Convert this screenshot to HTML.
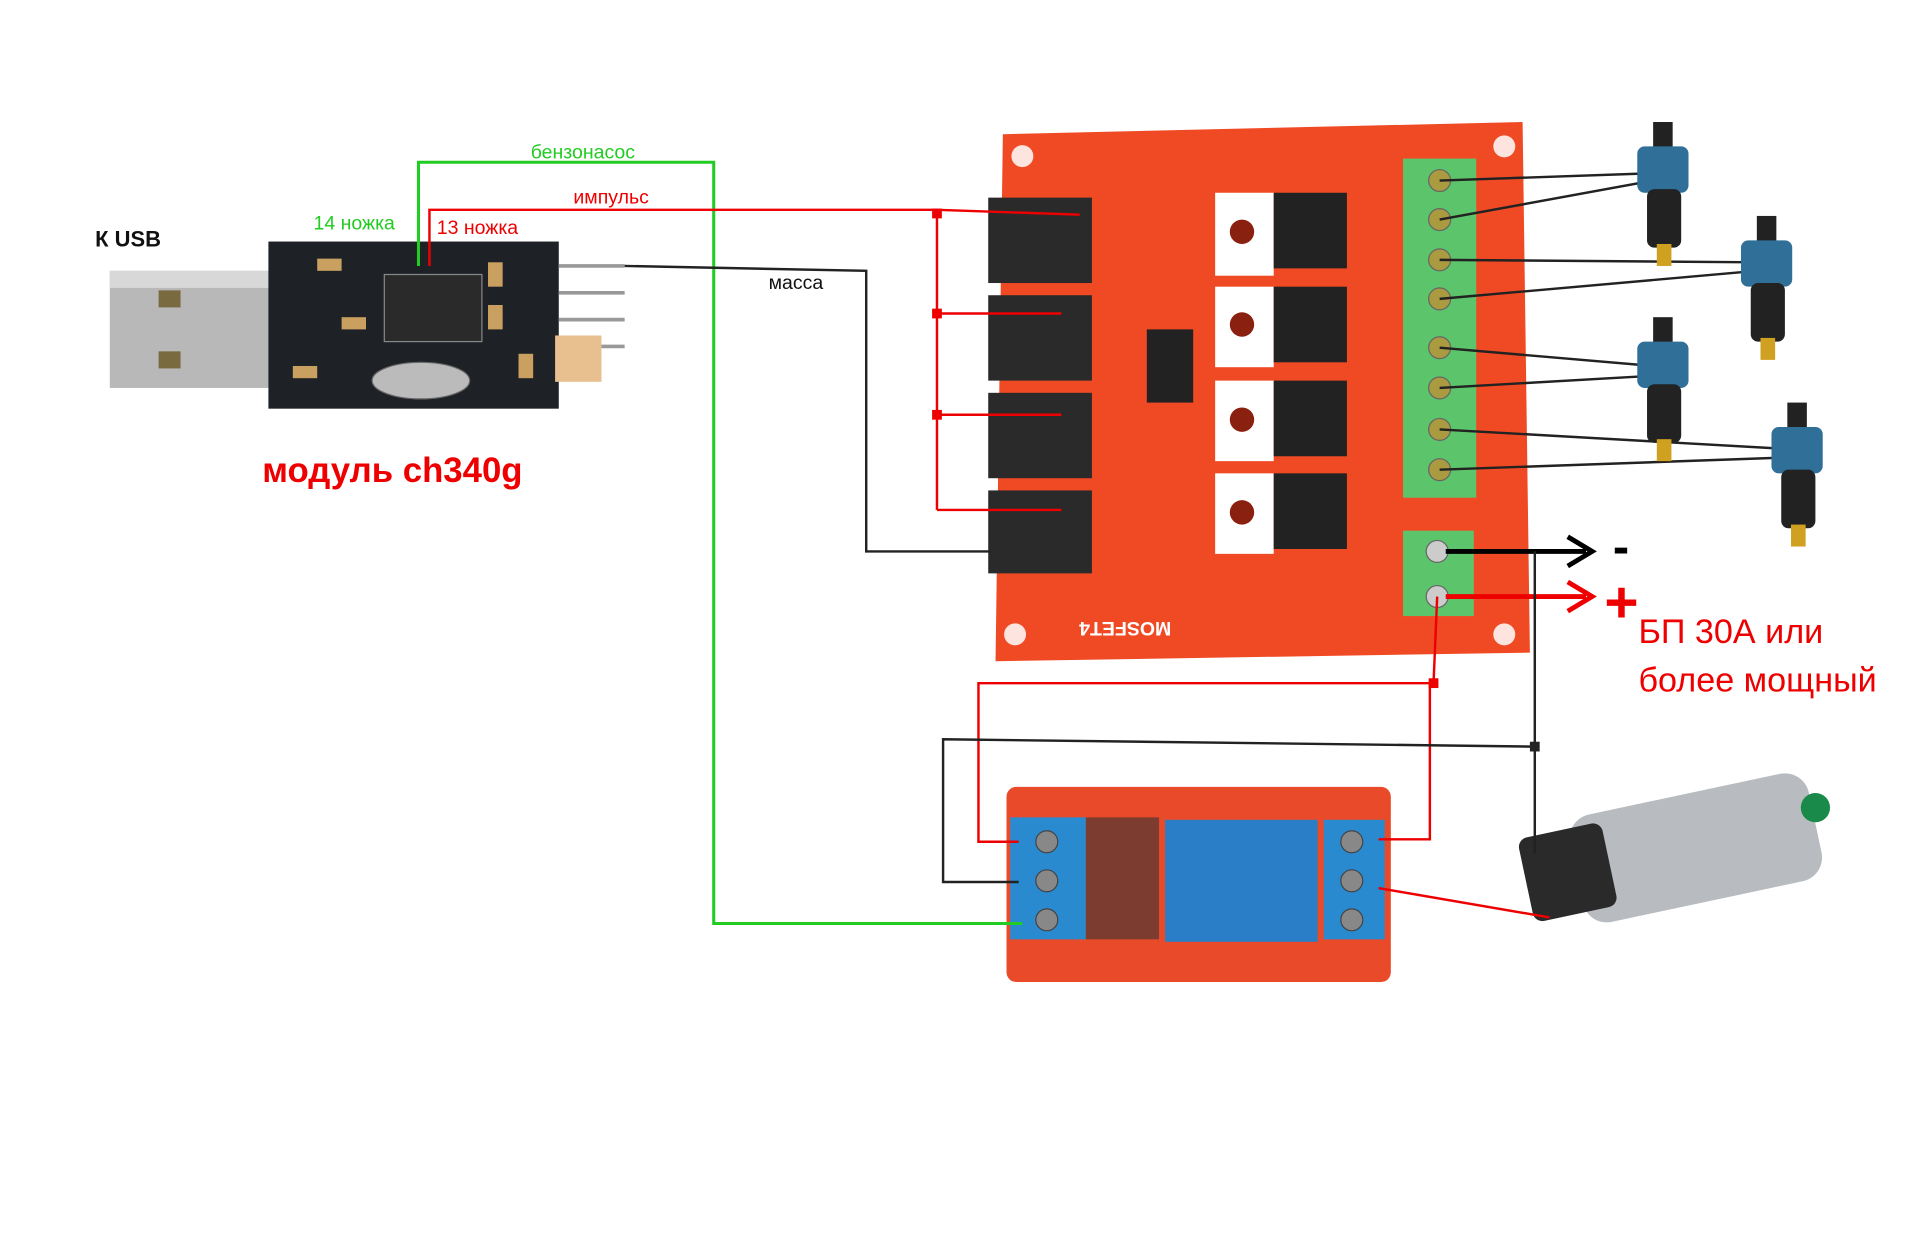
<!DOCTYPE html>
<html><head><meta charset="utf-8"><style>
html,body{margin:0;padding:0;background:#fff;width:1913px;height:1248px;overflow:hidden}
svg{display:block}
text{font-family:"Liberation Sans","DejaVu Sans",sans-serif}
</style></head><body>
<svg width="1913" height="1248" viewBox="0 0 1568 1023" preserveAspectRatio="none" xmlns="http://www.w3.org/2000/svg">
<rect width="1568" height="1023" fill="#fff"/>
<!-- USB plug -->
<rect x="90" y="222" width="158" height="96" fill="#b8b8b8"/>
<rect x="90" y="222" width="158" height="14" fill="#d8d8d8"/>
<rect x="130" y="238" width="18" height="14" fill="#7a6a40"/>
<rect x="130" y="288" width="18" height="14" fill="#7a6a40"/>
<!-- CH340 board -->
<rect x="220" y="198" width="238" height="137" fill="#1e2226"/>
<rect x="315" y="225" width="80" height="55" fill="#2a2a2a" stroke="#888"/>
<ellipse cx="345" cy="312" rx="40" ry="15" fill="#bbb" stroke="#666"/>
<g fill="#c9a060"><rect x="260" y="212" width="20" height="10"/><rect x="280" y="260" width="20" height="10"/><rect x="240" y="300" width="20" height="10"/><rect x="400" y="215" width="12" height="20"/><rect x="400" y="250" width="12" height="20"/><rect x="425" y="290" width="12" height="20"/></g>
<g stroke="#999" stroke-width="3"><line x1="458" y1="218" x2="512" y2="218"/><line x1="458" y1="240" x2="512" y2="240"/><line x1="458" y1="262" x2="512" y2="262"/><line x1="458" y1="284" x2="512" y2="284"/></g>
<rect x="455" y="275" width="38" height="38" fill="#e8c090"/>
<!-- MOSFET board -->
<polygon points="822,110 1248,100 1254,535 816,542" fill="#f04a25"/>
<g fill="#fff" opacity=".85"><circle cx="838" cy="128" r="9"/><circle cx="1233" cy="120" r="9"/><circle cx="832" cy="520" r="9"/><circle cx="1233" cy="520" r="9"/></g>
<g fill="#2a2a2a">
<rect x="810" y="162" width="85" height="70"/><rect x="810" y="242" width="85" height="70"/><rect x="810" y="322" width="85" height="70"/><rect x="810" y="402" width="85" height="68"/></g>
<g fill="#fff"><rect x="996" y="158" width="48" height="68"/><rect x="996" y="235" width="48" height="66"/><rect x="996" y="312" width="48" height="66"/><rect x="996" y="388" width="48" height="66"/></g>
<g fill="#222"><rect x="1044" y="158" width="60" height="62"/><rect x="1044" y="235" width="60" height="62"/><rect x="1044" y="312" width="60" height="62"/><rect x="1044" y="388" width="60" height="62"/></g>
<g fill="#8a2010"><circle cx="1018" cy="190" r="10"/><circle cx="1018" cy="266" r="10"/><circle cx="1018" cy="344" r="10"/><circle cx="1018" cy="420" r="10"/></g>
<rect x="940" y="270" width="38" height="60" fill="#222"/>
<text x="1020" y="520" font-size="16" font-weight="bold" fill="#fff" transform="rotate(180 990 515)">MOSFET4</text>
<!-- green terminals -->
<rect x="1150" y="130" width="60" height="278" fill="#5cc46a"/>
<rect x="1150" y="435" width="58" height="70" fill="#5cc46a"/>
<g fill="#aa9a40" stroke="#666"><circle cx="1180" cy="148" r="9"/><circle cx="1180" cy="180" r="9"/><circle cx="1180" cy="213" r="9"/><circle cx="1180" cy="245" r="9"/><circle cx="1180" cy="285" r="9"/><circle cx="1180" cy="318" r="9"/><circle cx="1180" cy="352" r="9"/><circle cx="1180" cy="385" r="9"/></g>
<g fill="#ccc" stroke="#666"><circle cx="1178" cy="452" r="9"/><circle cx="1178" cy="489" r="9"/></g>
<!-- injector wires -->
<g stroke="#222" stroke-width="2" fill="none">
<line x1="1180" y1="148" x2="1355" y2="142"/><line x1="1180" y1="180" x2="1355" y2="148"/>
<line x1="1180" y1="213" x2="1440" y2="215"/><line x1="1180" y1="245" x2="1440" y2="222"/>
<line x1="1180" y1="285" x2="1355" y2="300"/><line x1="1180" y1="318" x2="1355" y2="308"/>
<line x1="1180" y1="352" x2="1465" y2="368"/><line x1="1180" y1="385" x2="1465" y2="375"/>
</g>
<!-- injectors -->
<g id="inj">
<rect x="1355" y="100" width="16" height="22" fill="#222"/>
<rect x="1342" y="120" width="42" height="38" rx="6" fill="#2f6f98"/>
<rect x="1350" y="155" width="28" height="48" rx="6" fill="#222"/>
<rect x="1358" y="200" width="12" height="18" fill="#d0a020"/>
</g>
<use href="#inj" transform="translate(85,77)"/>
<use href="#inj" transform="translate(0,160)"/>
<use href="#inj" transform="translate(110,230)"/>
<!-- arrows -->
<line x1="1185" y1="452" x2="1300" y2="452" stroke="#000" stroke-width="4"/>
<polyline points="1285,440 1305,452 1285,464" stroke="#000" stroke-width="4" fill="none"/>
<text x="1322" y="462" font-size="40" font-weight="bold" fill="#000">-</text>
<line x1="1185" y1="489" x2="1300" y2="489" stroke="#e00" stroke-width="4"/>
<polyline points="1285,477 1305,489 1285,501" stroke="#e00" stroke-width="4" fill="none"/>
<text x="1315" y="510" font-size="48" font-weight="bold" fill="#e00">+</text>
<text x="1343" y="527" font-size="28" fill="#e00">БП 30А или</text>
<text x="1343" y="567" font-size="28" fill="#e00">более мощный</text>
<!-- relay board -->
<rect x="825" y="645" width="315" height="160" rx="8" fill="#e84a2a"/>
<rect x="828" y="670" width="62" height="100" fill="#2a8ad0"/>
<rect x="1085" y="672" width="50" height="98" fill="#2a8ad0"/>
<rect x="955" y="672" width="125" height="100" fill="#2a7ec8"/>
<rect x="890" y="670" width="60" height="100" fill="#333" opacity=".6"/>
<g fill="#888" stroke="#444"><circle cx="858" cy="690" r="9"/><circle cx="858" cy="722" r="9"/><circle cx="858" cy="754" r="9"/><circle cx="1108" cy="690" r="9"/><circle cx="1108" cy="722" r="9"/><circle cx="1108" cy="754" r="9"/></g>
<!-- pump -->
<rect x="1290" y="650" width="200" height="90" rx="20" fill="#b8bcc0" transform="rotate(-12 1390 695)"/>
<rect x="1250" y="680" width="70" height="70" rx="8" fill="#2a2a2a" transform="rotate(-12 1285 715)"/>
<circle cx="1488" cy="662" r="12" fill="#1a8a4a"/>
<!-- wires -->
<polyline points="343,218 343,133 585,133 585,757 838,757" stroke="#2c2" stroke-width="2.5" fill="none"/>
<polyline points="352,218 352,172 768,172 885,176" stroke="#e00" stroke-width="2" fill="none"/>
<polyline points="768,172 768,418" stroke="#e00" stroke-width="2" fill="none"/>
<g stroke="#e00" stroke-width="2"><line x1="768" y1="257" x2="870" y2="257"/><line x1="768" y1="340" x2="870" y2="340"/><line x1="768" y1="418" x2="870" y2="418"/></g>
<g fill="#e00"><rect x="764" y="171" width="8" height="8"/><rect x="764" y="253" width="8" height="8"/><rect x="764" y="336" width="8" height="8"/></g>
<polyline points="512,218 710,222 710,452 812,452" stroke="#222" stroke-width="2" fill="none"/>
<polyline points="1178,489 1175,560 802,560 802,690 835,690" stroke="#e00" stroke-width="2" fill="none"/>
<polyline points="1130,688 1172,688 1172,560" stroke="#e00" stroke-width="2" fill="none"/>
<rect x="1171" y="556" width="8" height="8" fill="#e00"/>
<line x1="1130" y1="728" x2="1270" y2="752" stroke="#e00" stroke-width="2"/>
<polyline points="1258,452 1258,700" stroke="#222" stroke-width="2" fill="none"/>
<polyline points="1258,612 773,606 773,723 835,723" stroke="#222" stroke-width="2" fill="none"/>
<rect x="1254" y="608" width="8" height="8" fill="#222"/>
<!-- labels -->
<text x="78" y="202" font-size="18" font-weight="bold" fill="#111">К USB</text>
<text x="257" y="188" font-size="16" fill="#2c2">14 ножка</text>
<text x="358" y="192" font-size="16" fill="#e00">13 ножка</text>
<text x="435" y="130" font-size="16" fill="#2c2">бензонасос</text>
<text x="470" y="167" font-size="16" fill="#e00">импульс</text>
<text x="630" y="237" font-size="16" fill="#111">масса</text>
<text x="215" y="395" font-size="28.5" font-weight="bold" fill="#e00">модуль ch340g</text>
</svg>
</body></html>
